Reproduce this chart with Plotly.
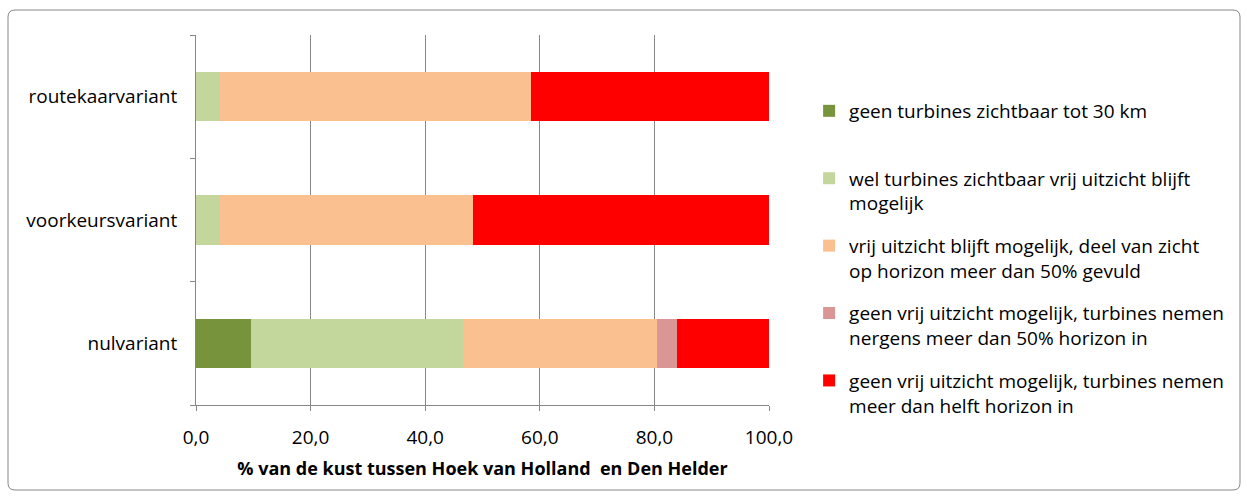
import plotly.graph_objects as go

categories = ["nulvariant", "voorkeursvariant", "routekaarvariant"]
series_names = [
    "geen turbines zichtbaar tot 30 km<br>&nbsp;",
    "wel turbines zichtbaar vrij uitzicht blijft<br>mogelijk",
    "vrij uitzicht blijft mogelijk, deel van zicht<br>op horizon meer dan 50% gevuld",
    "geen vrij uitzicht mogelijk, turbines nemen<br>nergens meer dan 50% horizon in",
    "geen vrij uitzicht mogelijk, turbines nemen<br>meer dan helft horizon in",
]
geen_zichtbaar = [9.6, 0.0, 0.0]
wel_zichtbaar = [37.0, 4.2, 4.2]
deel_gevuld = [33.8, 44.1, 54.3]
nergens_50 = [3.5, 0.0, 0.0]
meer_helft = [16.1, 51.7, 41.5]
colors = ["#77933C", "#C3D69B", "#FAC090", "#D99694", "#FF0000"]
x_ticks = [0, 20, 40, 60, 80, 100]
x_ticklabels = ["0,0", "20,0", "40,0", "60,0", "80,0", "100,0"]
x_title = "<b>% van de kust tussen Hoek van Holland  en Den Helder</b>"

series = [geen_zichtbaar, wel_zichtbaar, deel_gevuld, nergens_50, meer_helft]

fig = go.Figure()
for i, (name, vals, col) in enumerate(zip(series_names, series, colors)):
    fig.add_trace(go.Bar(
        y=categories, x=vals, name=name, orientation="h",
        marker=dict(color=col, line=dict(width=0)),
        legendgroup=f"g{i}",
    ))

# plot area geometry (pixels)
L, R, T, B = 196, 769, 35, 405
PW, PH = R - L, B - T


def px(x):
    return (x - L) / PW


def py(y):
    return (B - y) / PH


# outer rounded border
bx0, bx1, by0, by1, rad = 8, 1240, 10, 490, 7
border_path = (
    f"M {px(bx0 + rad)},{py(by0)} L {px(bx1 - rad)},{py(by0)} "
    f"Q {px(bx1)},{py(by0)} {px(bx1)},{py(by0 + rad)} "
    f"L {px(bx1)},{py(by1 - rad)} Q {px(bx1)},{py(by1)} {px(bx1 - rad)},{py(by1)} "
    f"L {px(bx0 + rad)},{py(by1)} Q {px(bx0)},{py(by1)} {px(bx0)},{py(by1 - rad)} "
    f"L {px(bx0)},{py(by0 + rad)} Q {px(bx0)},{py(by0)} {px(bx0 + rad)},{py(by0)} Z"
)

font_family = "Open Sans, Liberation Sans, sans-serif"
fig.update_layout(
    width=1247, height=500,
    barmode="stack", bargap=0.6,
    plot_bgcolor="white", paper_bgcolor="white",
    margin=dict(l=L, r=1247 - R, t=T, b=500 - B, autoexpand=False),
    font=dict(family=font_family, size=19, color="#000000"),
    legend=dict(
        x=1.07, xanchor="left", y=0.846, yanchor="top",
        valign="top", tracegroupgap=15, traceorder="grouped",
        font=dict(size=19), itemwidth=30,
    ),
    xaxis=dict(
        range=[0, 100], tickvals=x_ticks, ticktext=x_ticklabels,
        showgrid=True, gridcolor="#878787", gridwidth=1,
        showline=True, linecolor="#878787", linewidth=1,
        ticks="outside", ticklen=5, tickcolor="#878787",
        zeroline=False, automargin=False,
        ticklabelstandoff=10,
        title=dict(text=x_title, font=dict(size=18), standoff=13),
    ),
    yaxis=dict(
        categoryorder="array", categoryarray=categories,
        showline=True, linecolor="#878787", linewidth=1,
        ticks="outside", ticklen=5, tickcolor="#878787",
        tickson="boundaries", showgrid=False, automargin=False,
        ticklabelstandoff=14,
    ),
    shapes=[dict(
        type="path", xref="paper", yref="paper", path=border_path,
        line=dict(color="#878787", width=1), layer="below",
    )],
)

fig.write_html(
    "out.html",
    config={"displayModeBar": False},
    post_script="document.body.style.margin='0';document.body.style.overflow='hidden';",
)
